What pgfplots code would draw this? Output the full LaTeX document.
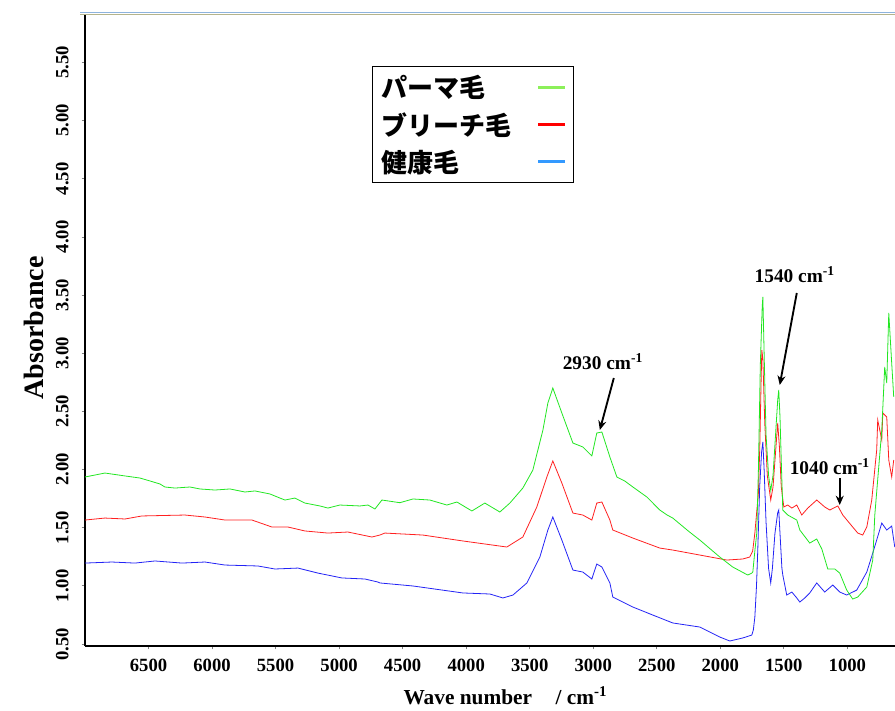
\documentclass[border=0pt]{standalone}
\usepackage{fontspec}
\setmainfont{Liberation Serif}
\newfontfamily\cjk{Noto Sans CJK JP}
\usepackage{pgfplots}
\usepackage{pgfplotstable}
\usetikzlibrary{arrows.meta}
\pgfplotsset{compat=1.18}
\definecolor{cgreen}{HTML}{22E622}
\definecolor{cred}{HTML}{FF2020}
\definecolor{cblue}{HTML}{2323F5}
\definecolor{lgreen}{HTML}{8CF05A}
\definecolor{lred}{HTML}{FF0000}
\definecolor{lblue}{HTML}{3399FF}
\definecolor{topblue}{HTML}{8EB3DD}
\definecolor{topolive}{HTML}{B4B48C}

% パーマ毛
\pgfplotstableread{
x y
7000 1.936
6843 1.970
6685 1.945
6567 1.927
6489 1.902
6410 1.876
6371 1.850
6292 1.841
6174 1.850
6095 1.833
5977 1.824
5859 1.833
5741 1.807
5662 1.816
5544 1.790
5466 1.755
5426 1.738
5348 1.755
5269 1.712
5151 1.687
5088 1.669
4994 1.695
4836 1.687
4773 1.695
4718 1.661
4663 1.738
4522 1.715
4419 1.747
4286 1.738
4152 1.695
4073 1.721
3955 1.644
3853 1.712
3735 1.635
3656 1.712
3554 1.841
3475 1.996
3396 2.340
3357 2.572
3318 2.701
3247 2.486
3160 2.228
3082 2.194
3011 2.117
2972 2.314
2932 2.323
2869 2.108
2814 1.936
2750 1.900
2688 1.850
2578 1.764
2476 1.652
2420 1.610
2374 1.583
2250 1.470
2161 1.394
2004 1.248
1902 1.162
1784 1.093
1752 1.110
1744 1.119
1728 1.300
1713 1.454
1700 2.000
1685 2.900
1670 3.400
1665 3.484
1655 3.000
1640 2.300
1620 1.950
1603 1.820
1585 1.950
1565 2.300
1548 2.600
1540 2.684
1530 2.450
1518 2.000
1508 1.652
1469 1.609
1398 1.566
1374 1.480
1296 1.368
1241 1.403
1201 1.317
1154 1.145
1099 1.145
1060 1.110
1005 0.964
958 0.887
918 0.904
847 0.990
800 1.222
784 1.609
729 2.340
706 2.882
690 2.744
674 3.346
651 2.916
635 2.624
}\perm

% ブリーチ毛
\pgfplotstableread{
x y
7000 1.566
6843 1.583
6685 1.575
6552 1.601
6213 1.609
6056 1.592
5898 1.566
5686 1.566
5529 1.506
5403 1.506
5269 1.472
5088 1.454
4931 1.463
4742 1.420
4679 1.437
4640 1.454
4341 1.437
4026 1.386
3680 1.334
3554 1.420
3444 1.678
3365 1.936
3318 2.074
3247 1.884
3160 1.626
3082 1.609
3011 1.566
2972 1.712
2932 1.721
2869 1.566
2846 1.480
2688 1.411
2476 1.325
2374 1.308
2161 1.265
1949 1.222
1823 1.231
1768 1.248
1745 1.300
1728 1.454
1700 1.800
1689 2.200
1678 2.800
1673 3.028
1665 2.950
1650 2.400
1630 1.950
1603 1.738
1585 1.850
1565 2.150
1548 2.400
1535 2.200
1520 1.850
1500 1.678
1469 1.695
1437 1.669
1398 1.695
1359 1.609
1311 1.669
1241 1.738
1178 1.678
1138 1.652
1075 1.687
1036 1.609
958 1.506
918 1.454
879 1.437
847 1.506
808 1.738
769 2.168
761 2.426
729 2.254
721 2.486
690 2.452
674 2.082
651 1.936
635 2.082
}\bleach

% 健康毛
\pgfplotstableread{
x y
7000 1.196
6788 1.205
6607 1.196
6449 1.214
6237 1.196
6056 1.205
5898 1.179
5639 1.171
5505 1.145
5324 1.153
5167 1.110
4978 1.068
4797 1.059
4695 1.033
4679 1.025
4419 0.999
4026 0.939
3813 0.930
3711 0.896
3632 0.921
3522 1.025
3420 1.248
3357 1.480
3318 1.592
3247 1.394
3160 1.136
3082 1.119
3011 1.059
2972 1.188
2932 1.162
2869 1.025
2846 0.904
2688 0.818
2531 0.749
2374 0.681
2161 0.646
2004 0.560
1925 0.526
1823 0.552
1752 0.577
1740 0.620
1728 0.732
1715 1.000
1705 1.308
1690 1.850
1675 2.150
1665 2.237
1655 2.000
1640 1.550
1620 1.150
1603 1.025
1590 1.150
1570 1.450
1548 1.630
1540 1.652
1530 1.450
1515 1.150
1508 1.093
1477 0.921
1437 0.947
1398 0.896
1374 0.861
1335 0.896
1296 0.939
1241 1.025
1178 0.947
1115 1.007
1060 0.947
1005 0.921
926 0.964
847 1.119
800 1.282
729 1.540
690 1.480
651 1.514
627 1.334
}\healthy

\begin{document}
\begin{tikzpicture}
\path[use as bounding box] (-63.75pt,-48pt) rectangle (607.5pt,484.5pt);
\begin{axis}[
  name=ax, at={(0,0)}, anchor=south west,
  scale only axis, width=607.5pt, height=473.25pt,
  x dir=reverse, xmin=625, xmax=7000, ymin=0.483, ymax=5.908,
  axis x line*=bottom, axis y line*=left,
  axis line style={line width=1pt, black},
  xtick={1000,1500,2000,2500,3000,3500,4000,4500,5000,5500,6000,6500},
  ytick={0.5,1,1.5,2,2.5,3,3.5,4,4.5,5,5.5},
  tick align=outside, major tick length=2.5pt,
  tick style={gray, line width=0.6pt},
  /pgf/number format/assume math mode=true,
  xticklabel style={font=\fontsize{14}{16}\selectfont\bfseries, yshift=-4pt, /pgf/number format/set thousands separator={}},
  yticklabel style={font=\fontsize{14}{16}\selectfont\bfseries, rotate=90, anchor=south, inner ysep=9.5pt,
    /pgf/number format/fixed, /pgf/number format/fixed zerofill, /pgf/number format/precision=2},
  ylabel={Absorbance},
  ylabel style={font=\fontsize{21}{24}\selectfont\bfseries, at={(axis description cs:-0.0635,0.504)}, anchor=center},
  xlabel={Wave number\hspace{1.1em}/ cm\textsuperscript{-1}},
  xlabel style={font=\fontsize{16}{18}\selectfont\bfseries, at={(axis description cs:0.519,-0.079)}, anchor=center},
  legend style={at={(axis description cs:0.354,0.919)}, anchor=north west,
    draw=black, line width=0.8pt, fill=white,
    font=\cjk\bfseries\fontsize{19.5}{22}\selectfont,
    inner xsep=5pt, inner ysep=4.5pt, row sep=5.5pt,
    /tikz/every odd column/.append style={column sep=17pt}},
  legend plot pos=right, legend cell align=left,
  legend image code/.code={\draw[#1, line width=2.2pt] (0pt,0pt) -- (20pt,0pt);},
]
\addlegendimage{color=lgreen}
\addlegendentry{パーマ毛}
\addlegendimage{color=lred}
\addlegendentry{ブリーチ毛}
\addlegendimage{color=lblue}
\addlegendentry{健康毛}
\addplot[forget plot, cblue, line width=0.6pt] table[x=x, y=y] {\healthy};
\addplot[forget plot, cred, line width=0.6pt] table[x=x, y=y] {\bleach};
\addplot[forget plot, cgreen, line width=0.6pt] table[x=x, y=y] {\perm};
\node[font=\fontsize{14.5}{16}\selectfont\bfseries] at (axis cs:2924,2.925) {2930 cm\textsuperscript{-1}};
\draw[-{Stealth[length=7pt,width=6pt]}, line width=1.4pt] (axis cs:2838,2.787) -- (axis cs:2948,2.34);
\node[font=\fontsize{14.5}{16}\selectfont\bfseries] at (axis cs:1414,3.673) {1540 cm\textsuperscript{-1}};
\draw[-{Stealth[length=7pt,width=6pt]}, line width=1.4pt] (axis cs:1398,3.518) -- (axis cs:1532,2.727);
\node[font=\fontsize{14.5}{16}\selectfont\bfseries] at (axis cs:1138,2.022) {1040 cm\textsuperscript{-1}};
\draw[-{Stealth[length=7pt,width=6pt]}, line width=1.4pt] (axis cs:1060,1.927) -- (axis cs:1060,1.695);
\end{axis}
\draw[topblue, line width=0.8pt] ([xshift=-3.75pt,yshift=2.0pt]ax.north west) -- ([xshift=2pt,yshift=2.0pt]ax.north east);
\draw[topolive, line width=0.9pt] ([xshift=-3.75pt,yshift=0.6pt]ax.north west) -- ([xshift=2pt,yshift=0.6pt]ax.north east);
\end{tikzpicture}
\end{document}
